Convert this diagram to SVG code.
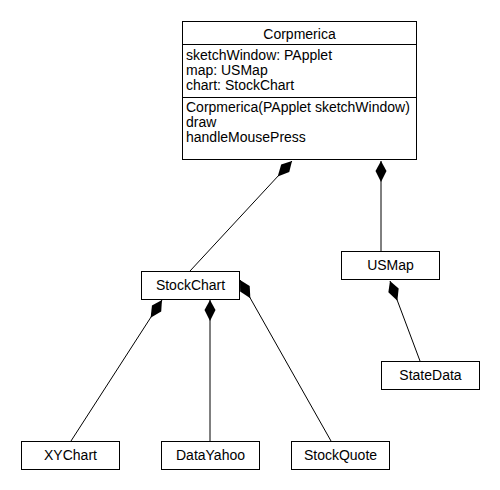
<svg xmlns="http://www.w3.org/2000/svg" width="500" height="490" viewBox="0 0 500 490">
<defs>
<style>
.box{fill:#fff;stroke:#000;stroke-width:1}
.t{font-family:"Liberation Sans",Arial,sans-serif;font-size:14px;fill:#000}
.c{text-anchor:middle}
.ln{stroke:#000;stroke-width:1;fill:none;marker-start:url(#dia)}
</style>
<marker id="dia" markerUnits="userSpaceOnUse" markerWidth="22" markerHeight="14" viewBox="0 -6 22 12" refX="0" refY="0" orient="auto">
<path d="M0,0 L10,-5.5 L21,0 L10,5.5 Z" fill="#000"/>
</marker>
</defs>
<rect width="500" height="490" fill="#fff"/>
<g id="connectors">
<line class="ln" x1="292" y1="161" x2="190" y2="271"/>
<line class="ln" x1="381" y1="161" x2="381" y2="251"/>
<line class="ln" x1="162" y1="300" x2="71" y2="441"/>
<line class="ln" x1="210" y1="300" x2="210" y2="441"/>
<line class="ln" x1="240" y1="280" x2="331" y2="441"/>
<line class="ln" x1="390" y1="281" x2="420" y2="361"/>
</g>
<g id="Corpmerica">
<rect class="box" x="182.5" y="21.5" width="234" height="138"/>
<line x1="182.5" y1="44.5" x2="416.5" y2="44.5" stroke="#000"/>
<line x1="182.5" y1="97.5" x2="416.5" y2="97.5" stroke="#000"/>
<text class="t c" x="299.5" y="38.5">Corpmerica</text>
<text class="t" x="186" y="60">sketchWindow: PApplet</text>
<text class="t" x="186" y="75">map: USMap</text>
<text class="t" x="186" y="90">chart: StockChart</text>
<text class="t" x="186" y="112">Corpmerica(PApplet sketchWindow)</text>
<text class="t" x="186" y="127">draw</text>
<text class="t" x="186" y="142">handleMousePress</text>
</g>
<g id="StockChart">
<rect class="box" x="141.5" y="271.5" width="98" height="28"/>
<text class="t c" x="190.5" y="290">StockChart</text>
</g>
<g id="USMap">
<rect class="box" x="341.5" y="251.5" width="98" height="28"/>
<text class="t c" x="390.5" y="270">USMap</text>
</g>
<g id="StateData">
<rect class="box" x="381.5" y="361.5" width="98" height="28"/>
<text class="t c" x="430.5" y="380">StateData</text>
</g>
<g id="XYChart">
<rect class="box" x="21.5" y="441.5" width="98" height="28"/>
<text class="t c" x="70.5" y="460">XYChart</text>
</g>
<g id="DataYahoo">
<rect class="box" x="161.5" y="441.5" width="98" height="28"/>
<text class="t c" x="210.5" y="460">DataYahoo</text>
</g>
<g id="StockQuote">
<rect class="box" x="291.5" y="441.5" width="98" height="28"/>
<text class="t c" x="340.5" y="460">StockQuote</text>
</g>
</svg>
